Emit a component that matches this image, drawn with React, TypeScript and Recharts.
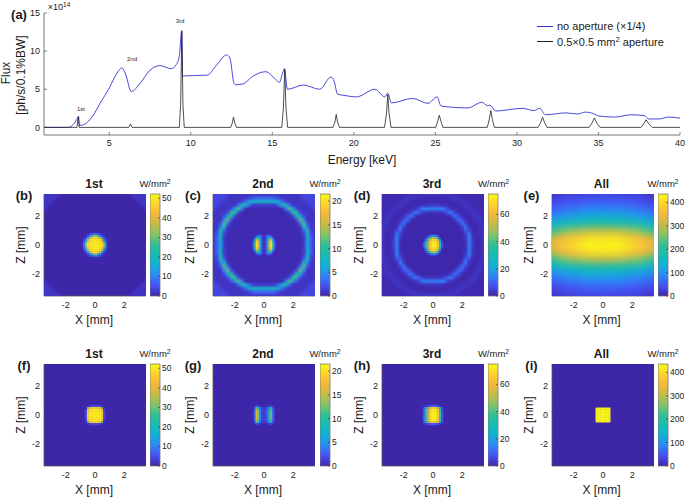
import React from "react";
import {
  BarChart,
  Bar,
  LineChart,
  Line,
  ScatterChart,
  Scatter,
  XAxis,
  YAxis,
  CartesianGrid,
  Legend,
} from "recharts";

const FONT = '"Liberation Sans", Arial, sans-serif';

// (a) flux spectra
const blueEnergy = [1, 2.4, 2.6, 2.8, 3, 3.12, 3.17, 3.43, 4.04, 4.45, 5, 5.47, 5.77, 6, 6.35, 6.9, 7.5, 8.1, 8.8, 9.1, 9.3, 9.44, 9.5, 9.6, 11, 11.6, 12.2, 12.4, 12.65, 12.75, 13.2, 13.8, 14.6, 15.2, 15.45, 15.6, 15.75, 15.92, 16.9, 17.9, 18.6, 18.8, 19, 19.4, 20.15, 21.3, 21.9, 22.08, 22.3, 23.6, 24.55, 25.1, 25.35, 27, 27.85, 28.2, 28.35, 28.7, 30.35, 31.05, 31.4, 31.75, 33, 33.7, 34.2, 34.7, 35, 36, 37, 37.8, 38.1, 38.7, 39.3, 40];
const blueFlux = [0, 0, 0.05, 0.4, 1, 1.45, 0.25, 0.35, 1.65, 3.2, 5.15, 7.1, 7.8, 7, 4.7, 5.8, 7.5, 8.1, 7.7, 8.2, 9.4, 12.6, 6.7, 6.75, 6.85, 8.2, 9.5, 9.1, 5.8, 5.6, 5.7, 6.7, 7.3, 6.3, 5.9, 6.9, 7.7, 5, 5.55, 5, 6.6, 6, 4.35, 4.2, 4, 5, 4, 4.5, 3.2, 3.8, 3.15, 4, 2.8, 2.55, 3.3, 2.85, 2.9, 2.15, 2.5, 2.2, 2.5, 1.65, 1.9, 1.75, 2, 1.8, 1.5, 1.35, 1.65, 1.55, 1.1, 1.1, 1.35, 1.2];
const blackEnergy = [1, 3.02, 3.1, 3.16, 6.2, 6.3, 6.4, 9.3, 9.38, 9.45, 9.52, 9.6, 12.45, 12.55, 12.62, 12.7, 12.8, 15.58, 15.68, 15.76, 15.84, 15.94, 18.72, 18.84, 18.92, 19, 19.12, 21.88, 22, 22.08, 22.16, 22.28, 25.02, 25.14, 25.24, 25.34, 25.46, 28.18, 28.3, 28.4, 28.5, 28.62, 31.3, 31.45, 31.57, 31.7, 31.85, 34.42, 34.6, 34.75, 34.9, 35.1, 37.6, 37.78, 37.92, 38.08, 38.3, 40];
const blackFlux = [0, 0, 1.4, 0, 0, 0.45, 0, 0, 3, 12.7, 3, 0, 0, 0.6, 1.35, 0.6, 0, 0, 2.5, 7.6, 2.5, 0, 0, 0.7, 1.7, 0.7, 0, 0, 1.8, 4.3, 1.8, 0, 0, 0.8, 1.6, 0.8, 0, 0, 1, 2.2, 1, 0, 0, 0.6, 1.35, 0.6, 0, 0, 0.55, 1.25, 0.55, 0, 0, 0.45, 1, 0.45, 0, 0];

const blueData = blueEnergy.map((e, i) => ({ e, f: blueFlux[i] }));
const blackData = blackEnergy.map((e, i) => ({ e, f: blackFlux[i] }));

const energyTicks = [5, 10, 15, 20, 25, 30, 35, 40];
const fluxTicks = [0, 5, 10, 15];
const mmTicks = [-2, 0, 2];

// power density grids, z >= 0 only (mirrored at build time)
const ring1st = [
  [0, 0, 0, 0, 0, 0, 0, 0, 0, 0, 0, 0, 0, 0, 0, 0],
  [0, 0, 0, 0, 0, 0, 0, 0, 0, 0, 0, 0, 0, 0, 0, 0],
  [0, 0, 0, 0, 0, 0, 0, 0, 0, 0, 0, 0, 0, 0, 0, 0],
  [0, 0, 0, 0, 0, 0, 0, 0, 0, 0, 0, 0, 0, 0, 0, 0],
  [0, 0, 0, 0, 0, 0, 0, 0, 0, 0, 0, 0, 0, 0, 0, 0],
  [0, 0, 0, 0, 0, 0, 0, 0, 0, 0, 0, 0, 0, 0, 0, 0],
  [0, 0, 0, 0, 0, 0, 0, 0, 0, 0, 0, 0, 0, 0, 0, 0],
  [0, 0, 0, 0, 0, 0, 0, 0, 0, 0, 0, 0, 0, 0, 0, 0],
  [0, 0, 0, 0, 0, 0, 0, 0, 0, 0, 0, 0, 0, 0, 0, 2],
  [0, 0, 0, 0, 0, 0, 0, 0, 0, 0, 0, 0, 0, 0, 0, 2],
  [0, 0, 0, 0, 0, 0, 0, 0, 0, 0, 0, 0, 0, 0, 2, 2],
  [0, 0, 0, 0, 0, 0, 0, 0, 0, 0, 0, 0, 0, 2, 2, 2],
  [0, 0, 0, 0, 0, 0, 0, 0, 0, 0, 0, 0, 2, 2, 2, 2],
  [0, 0, 0, 0, 0, 0, 0, 0, 0, 0, 0, 2, 2, 2, 2, 2],
  [0, 0, 0, 0, 0, 0, 0, 0, 0, 0, 2, 2, 2, 2, 2, 2],
  [0, 0, 0, 0, 0, 0, 0, 0, 2, 2, 2, 2, 2, 2, 2, 2],
];
const spot1st = [
  [50, 50, 50, 50, 48, 35, 10, 1],
  [50, 50, 50, 50, 47, 33, 9, 1],
  [50, 50, 50, 49, 44, 20, 6, 0],
  [50, 50, 49, 47, 35, 12, 3, 0],
  [48, 47, 44, 35, 14, 5, 1, 0],
  [35, 33, 20, 12, 5, 1, 0, 0],
  [10, 9, 6, 3, 1, 0, 0, 0],
  [1, 1, 0, 0, 0, 0, 0, 0],
];
const ring2nd = [
  [0.3, 0.3, 0.3, 0.3, 0.3, 0.3, 0.3, 0.3, 0.3, 0.3, 0.3, 1, 6, 2.5, 0.8, 0.8],
  [0.3, 0.3, 0.3, 0.3, 0.3, 0.3, 0.3, 0.3, 0.3, 0.3, 0.3, 1, 6.5, 2.5, 0.8, 0.8],
  [0.3, 0.3, 0.3, 0.3, 0.3, 0.3, 0.3, 0.3, 0.3, 0.3, 0.3, 1, 7.5, 3, 0.8, 0.8],
  [0.3, 0.3, 0.3, 0.3, 0.3, 0.3, 0.3, 0.3, 0.3, 0.3, 0.3, 1.5, 8.5, 2, 0.8, 0.8],
  [0.3, 0.3, 0.3, 0.3, 0.3, 0.3, 0.3, 0.3, 0.3, 0.3, 0.3, 3, 9, 1.5, 0.8, 0.8],
  [0.3, 0.3, 0.3, 0.3, 0.3, 0.3, 0.3, 0.3, 0.3, 0.3, 1, 9, 4, 0.8, 0.8, 0.8],
  [0.3, 0.3, 0.3, 0.3, 0.3, 0.3, 0.3, 0.3, 0.3, 0.3, 3.5, 11.5, 2, 0.8, 0.8, 0.8],
  [0.3, 0.3, 0.3, 0.3, 0.3, 0.3, 0.3, 0.3, 0.3, 2, 12, 4.5, 0.8, 0.8, 0.8, 0.8],
  [0.3, 0.3, 0.3, 0.3, 0.3, 0.3, 0.3, 0.3, 1.5, 10, 7, 1.8, 0.8, 0.8, 0.8, 1.6],
  [0.3, 0.3, 0.3, 0.3, 0.3, 0.3, 0.3, 1.8, 10, 10, 1.8, 0.8, 0.8, 0.8, 0.8, 1.6],
  [0.3, 0.3, 0.3, 0.3, 0.3, 0.3, 3.5, 11.5, 6, 1.8, 0.8, 0.8, 0.8, 0.8, 1.6, 1.6],
  [1, 1, 1, 1, 3, 8, 9, 3.5, 0.8, 0.8, 0.8, 0.8, 0.8, 1.6, 1.6, 1.6],
  [7.5, 7.5, 7.5, 7.5, 7, 3.5, 1.5, 0.8, 0.8, 0.8, 0.8, 0.8, 1.6, 1.6, 1.6, 1.6],
  [3, 3, 3, 2.5, 1.5, 0.8, 0.8, 0.8, 0.8, 0.8, 0.8, 1.6, 1.6, 1.6, 1.6, 1.6],
  [0.8, 0.8, 0.8, 0.8, 0.8, 0.8, 0.8, 0.8, 0.8, 0.8, 1.6, 1.6, 1.6, 1.6, 1.6, 1.6],
  [0.8, 0.8, 0.8, 0.8, 0.8, 0.8, 0.8, 0.8, 1.6, 1.6, 1.6, 1.6, 1.6, 1.6, 1.6, 1.6],
];
const spot2nd = [
  [0.5, 1.5, 6, 16, 20, 12, 3, 0.5],
  [0.5, 1.5, 6, 16, 20, 11.5, 3, 0.3],
  [0.5, 1.5, 6, 15, 19, 10, 2, 0.2],
  [0.5, 1.5, 5.5, 13, 15, 6, 1, 0],
  [0.5, 1.5, 5, 9, 8, 2.5, 0.3, 0],
  [0.5, 1.2, 3, 4, 2.5, 0.5, 0, 0],
  [0.2, 0.4, 0.8, 0.8, 0.3, 0, 0, 0],
  [0, 0, 0, 0, 0, 0, 0, 0],
];
const ring3rd = [
  [0.3, 0.3, 0.3, 0.3, 0.3, 0.3, 0.3, 0.3, 0.3, 1.5, 14, 3, 0.8, 1, 2.8, 2.4],
  [0.3, 0.3, 0.3, 0.3, 0.3, 0.3, 0.3, 0.3, 0.3, 1.5, 14, 3, 0.8, 1, 2.6, 2.4],
  [0.3, 0.3, 0.3, 0.3, 0.3, 0.3, 0.3, 0.3, 0.3, 2.5, 15, 2, 0.8, 1, 2.8, 2],
  [0.3, 0.3, 0.3, 0.3, 0.3, 0.3, 0.3, 0.3, 0.3, 4, 14, 1.5, 0.8, 1.2, 2.8, 1.6],
  [0.3, 0.3, 0.3, 0.3, 0.3, 0.3, 0.3, 0.3, 1.2, 10, 6, 1, 0.8, 1.6, 2.8, 1.2],
  [0.3, 0.3, 0.3, 0.3, 0.3, 0.3, 0.3, 0.3, 3.5, 14, 2, 0.8, 0.8, 2.2, 2.4, 1],
  [0.3, 0.3, 0.3, 0.3, 0.3, 0.3, 0.3, 2.5, 13, 5, 1, 0.8, 1.2, 2.8, 1.6, 0.8],
  [0.3, 0.3, 0.3, 0.3, 0.3, 0.3, 2.5, 12, 8, 1.5, 0.8, 0.8, 2.2, 2.8, 1.2, 0.8],
  [0.3, 0.3, 0.3, 0.3, 0.3, 3.5, 13, 8, 1.5, 0.8, 0.8, 1.6, 2.8, 1.6, 0.8, 0.8],
  [2, 2, 2.5, 4, 10, 14, 5, 1.5, 0.8, 0.8, 1.2, 2.8, 2.4, 0.8, 0.8, 0.8],
  [14, 14, 15, 14, 6, 2, 1, 0.8, 0.8, 1.2, 2.8, 2.4, 1.2, 0.8, 0.8, 0.8],
  [3, 3, 2, 1.5, 1, 0.8, 0.8, 0.8, 1.6, 2.8, 2.4, 1.2, 0.8, 0.8, 0.8, 0.8],
  [0.8, 0.8, 0.8, 0.8, 0.8, 0.8, 1.2, 2.2, 2.8, 2, 0.8, 0.8, 0.8, 0.8, 0.8, 0.8],
  [0.8, 0.8, 0.8, 1.2, 1.6, 2.2, 2.8, 2.8, 1.6, 0.8, 0.8, 0.8, 0.8, 0.8, 0.8, 0.8],
  [2.8, 2.8, 2.8, 2.8, 2.8, 2.4, 1.6, 1.2, 0.8, 0.8, 0.8, 0.8, 0.8, 0.8, 0.8, 0.8],
  [2.4, 2.4, 2.4, 2.4, 1.6, 0.8, 0.8, 0.8, 0.8, 0.8, 0.8, 0.8, 0.8, 0.8, 0.8, 0.8],
];
const spot3rd = [
  [0, 8, 25, 42, 58, 68, 72, 72, 70, 62, 35, 8, 0],
  [0, 7, 24, 42, 58, 68, 72, 72, 70, 61, 33, 7, 0],
  [0, 3, 18, 38, 56, 67, 71, 71, 69, 56, 25, 3, 0],
  [0, 1, 8, 28, 48, 62, 68, 68, 64, 45, 12, 1, 0],
  [0, 0, 2, 12, 28, 42, 50, 50, 44, 22, 3, 0, 0],
  [0, 0, 0, 2, 6, 12, 15, 15, 12, 4, 0, 0, 0],
];
const allOpen = [
  [440, 440, 435, 425, 410, 390, 370, 345, 320, 300],
  [410, 410, 405, 395, 380, 360, 335, 310, 285, 260],
  [300, 300, 295, 285, 275, 260, 240, 220, 195, 175],
  [195, 195, 190, 185, 178, 168, 155, 140, 125, 110],
  [130, 130, 128, 124, 118, 110, 100, 90, 80, 70],
  [85, 85, 83, 80, 76, 70, 63, 55, 48, 42],
  [55, 55, 53, 50, 47, 43, 38, 32, 27, 23],
  [35, 35, 34, 32, 30, 27, 23, 19, 16, 13],
  [22, 22, 21, 20, 18, 16, 13, 10, 8, 6],
  [14, 14, 13, 12, 11, 9, 7, 5, 4, 3],
];
const square1st = [
  [50, 50, 50, 50, 46, 4, 0],
  [50, 50, 50, 50, 46, 4, 0],
  [50, 50, 50, 50, 46, 4, 0],
  [50, 50, 50, 49, 42, 3, 0],
  [46, 46, 46, 42, 28, 1, 0],
  [4, 4, 4, 3, 1, 0, 0],
];
const square2nd = [
  [0, 3, 16, 13, 4, 1.5, 1, 1.5, 3, 9, 12, 3, 0],
  [0, 3, 16, 13, 4, 1.5, 1, 1.5, 3, 9, 12, 3, 0],
  [0, 3, 16, 13, 4, 1.5, 1, 1.5, 3, 9, 12, 3, 0],
  [0, 3, 15, 12, 4, 1.5, 1, 1.5, 3, 8, 11, 3, 0],
  [0, 2, 11, 9, 3, 1, 1, 1, 2, 6, 8, 2, 0],
  [0, 0, 2, 1.5, 0.5, 0, 0, 0, 0.5, 1, 1.5, 0, 0],
];
const square3rd = [
  [0, 8, 26, 44, 60, 70, 73, 73, 71, 64, 38, 8, 0],
  [0, 8, 26, 44, 60, 70, 73, 73, 71, 64, 38, 8, 0],
  [0, 8, 26, 44, 60, 70, 73, 73, 71, 64, 38, 8, 0],
  [0, 8, 26, 44, 60, 70, 73, 73, 71, 64, 38, 8, 0],
  [0, 5, 20, 36, 50, 60, 63, 63, 60, 52, 28, 5, 0],
  [0, 0, 2, 5, 7, 8, 9, 9, 8, 6, 2, 0, 0],
];
const squareAll = [
  [430, 430, 430, 430, 430],
  [430, 430, 430, 430, 430],
  [430, 430, 430, 430, 430],
  [430, 430, 430, 430, 430],
  [430, 430, 430, 430, 430],
];

const PARULA = ["#3e26a8", "#4750f3", "#2d87f7", "#11b1d6", "#17bcb4", "#2fc095", "#84c367", "#c4bb48", "#f3b83c", "#fdd130", "#f9fb15"];

function hexToRgb(h: string) {
  return [1, 3, 5].map((i) => parseInt(h.slice(i, i + 2), 16));
}

function parulaColor(t: number) {
  const p = Math.max(0, Math.min(1, t)) * (PARULA.length - 1);
  const i = Math.min(Math.floor(p), PARULA.length - 2);
  const a = hexToRgb(PARULA[i]);
  const b = hexToRgb(PARULA[i + 1]);
  const c = a.map((v, k) => Math.round(v + (b[k] - v) * (p - i)));
  return `rgb(${c[0]},${c[1]},${c[2]})`;
}

type Layer = { grid: number[][]; step: number; mirrorX: boolean; blur: string };

// grid -> scatter points; z is always mirrored, x only when the grid holds x >= 0
function buildCells(layer: Layer) {
  const cells: { x: number; z: number; v: number }[] = [];
  layer.grid.forEach((row, j) => {
    row.forEach((v, i) => {
      if (v === 0) return;
      const xs = layer.mirrorX
        ? i === 0 ? [0] : [i * layer.step, -i * layer.step]
        : [(i - (row.length - 1) / 2) * layer.step];
      const zs = j === 0 ? [0] : [j * layer.step, -j * layer.step];
      xs.forEach((x) => zs.forEach((z) => cells.push({ x, z, v })));
    });
  });
  return cells;
}

const PLOT = 102;
const MM_SPAN = 7;

const panels = [
  { letter: "(b)", title: "1st", L: 44, T: 194, cb: 149.5, max: 52.2, ticks: [0, 10, 20, 30, 40, 50], layers: [{ grid: ring1st, step: 0.25, mirrorX: true, blur: "b1" }, { grid: spot1st, step: 0.125, mirrorX: true, blur: "b2" }] },
  { letter: "(c)", title: "2nd", L: 213, T: 194, cb: 319.5, max: 21.5, ticks: [0, 5, 10, 15, 20], layers: [{ grid: ring2nd, step: 0.25, mirrorX: true, blur: "b1" }, { grid: spot2nd, step: 0.125, mirrorX: true, blur: "b2" }] },
  { letter: "(d)", title: "3rd", L: 382, T: 194, cb: 488, max: 75, ticks: [0, 20, 40, 60], layers: [{ grid: ring3rd, step: 0.25, mirrorX: true, blur: "b1" }, { grid: spot3rd, step: 0.125, mirrorX: false, blur: "b2" }] },
  { letter: "(e)", title: "All", L: 551.5, T: 194, cb: 657.5, max: 436, ticks: [0, 100, 200, 300, 400], layers: [{ grid: allOpen, step: 0.5, mirrorX: true, blur: "b3" }] },
  { letter: "(f)", title: "1st", L: 44, T: 364, cb: 149.5, max: 52.2, ticks: [0, 10, 20, 30, 40, 50], layers: [{ grid: square1st, step: 0.125, mirrorX: true, blur: "b2" }] },
  { letter: "(g)", title: "2nd", L: 213, T: 364, cb: 319.5, max: 21.5, ticks: [0, 5, 10, 15, 20], layers: [{ grid: square2nd, step: 0.125, mirrorX: false, blur: "b2" }] },
  { letter: "(h)", title: "3rd", L: 382, T: 364, cb: 488, max: 75, ticks: [0, 20, 40, 60], layers: [{ grid: square3rd, step: 0.125, mirrorX: false, blur: "b2" }] },
  { letter: "(i)", title: "All", L: 551.5, T: 364, cb: 657.5, max: 436, ticks: [0, 100, 200, 300, 400], layers: [{ grid: squareAll, step: 0.11, mirrorX: true, blur: "b4" }] },
];

function Txt({ x, y, size = 12, bold, rotate, children }: any) {
  return (
    <div
      style={{
        position: "absolute",
        left: x,
        top: y,
        transform: `translate(-50%, -50%)${rotate ? ` rotate(${rotate}deg)` : ""}`,
        fontFamily: FONT,
        fontSize: size,
        fontWeight: bold ? 700 : 400,
        color: "#1a1a1a",
        whiteSpace: "nowrap",
        lineHeight: 1,
      }}
    >
      {children}
    </div>
  );
}

const Sup = ({ children }: any) => (
  <span style={{ fontSize: "0.72em", verticalAlign: "0.5em" }}>{children}</span>
);

const axisStroke = { stroke: "#555", strokeWidth: 0.8 };
const blank = () => "";

function HeatPanel({ panel }: any) {
  const pxPerMm = PLOT / MM_SPAN;
  const tick = { fontSize: 9, fill: "#222", fontFamily: FONT };
  return (
    <>
      <div style={{ position: "absolute", left: panel.L - 30, top: panel.T - 2 }}>
        <ScatterChart width={30 + PLOT + 2} height={2 + PLOT + 18} margin={{ top: 2, right: 2, bottom: 0, left: 0 }}>
          <CartesianGrid fill="#3e26a8" stroke="none" horizontal={false} vertical={false} />
          {panel.layers.map((layer: Layer, i: number) => {
            const size = layer.step * pxPerMm + 0.4;
            return (
              <Scatter
                key={i}
                className={layer.blur}
                data={buildCells(layer)}
                isAnimationActive={false}
                shape={(p: any) => (
                  <rect
                    x={p.cx - size / 2}
                    y={p.cy - size / 2}
                    width={size}
                    height={size}
                    fill={parulaColor(p.payload.v / panel.max)}
                  />
                )}
              />
            );
          })}
          <XAxis type="number" dataKey="x" domain={[-3.5, 3.5]} allowDataOverflow ticks={mmTicks} height={18} tickSize={-2} tickMargin={8} tick={tick} axisLine={axisStroke} tickLine={{ stroke: "#333", strokeWidth: 0.6 }} />
          <YAxis type="number" dataKey="z" domain={[-3.5, 3.5]} allowDataOverflow ticks={mmTicks} width={30} tickSize={-2} tickMargin={6} tick={tick} axisLine={axisStroke} tickLine={{ stroke: "#333", strokeWidth: 0.6 }} />
          <XAxis xAxisId="top" orientation="top" type="number" domain={[-3.5, 3.5]} ticks={mmTicks} height={0} tickSize={-2} tickFormatter={blank} axisLine={axisStroke} tickLine={{ stroke: "#333", strokeWidth: 0.6 }} />
          <YAxis yAxisId="right" orientation="right" type="number" domain={[-3.5, 3.5]} ticks={mmTicks} width={0} tickSize={-2} tickFormatter={blank} axisLine={axisStroke} tickLine={{ stroke: "#333", strokeWidth: 0.6 }} />
        </ScatterChart>
      </div>
      <div style={{ position: "absolute", left: panel.cb, top: panel.T - 2 }}>
        <BarChart width={10 + 24} height={2 + PLOT + 6} data={[{ v: panel.max }]} margin={{ top: 2, right: 0, bottom: 6, left: 0 }} barCategoryGap={0}>
          <XAxis hide />
          <YAxis orientation="right" type="number" domain={[0, panel.max]} ticks={panel.ticks} interval={0} width={24} tickSize={-2} tickMargin={4} tick={{ fontSize: 8.5, fill: "#222", fontFamily: FONT, textAnchor: "start" }} axisLine={false} tickLine={{ stroke: "#333", strokeWidth: 0.6 }} />
          <Bar dataKey="v" fill="url(#parulaBar)" stroke="#777" strokeWidth={0.8} isAnimationActive={false} />
        </BarChart>
      </div>
      <Txt x={panel.L + 50} y={panel.T - 10} bold>{panel.title}</Txt>
      <Txt x={panel.cb + 5.5} y={panel.T - 10} size={9.5}>W/mm<Sup>2</Sup></Txt>
      <Txt x={panel.L - 20} y={panel.T + 1} size={13} bold>{panel.letter}</Txt>
      <Txt x={panel.L - 23} y={panel.T + 51} rotate={-90}>Z [mm]</Txt>
      <Txt x={panel.L + 50} y={panel.T + 126}>X [mm]</Txt>
    </>
  );
}

function FluxLegend({ payload }: any) {
  return (
    <div style={{ fontFamily: FONT, fontSize: 11, color: "#1a1a1a" }}>
      {(payload || []).map((item: any) => (
        <div key={item.value} style={{ display: "flex", alignItems: "center", height: 14.7 }}>
          <span style={{ width: 16, height: 0, borderTop: `0.8px solid ${item.color}`, marginRight: 4 }} />
          <span style={{ whiteSpace: "nowrap" }}>
            {item.value === "blue" ? "no aperture (×1/4)" : <>0.5×0.5 mm<Sup>2</Sup> aperture</>}
          </span>
        </div>
      ))}
    </div>
  );
}

export default function App() {
  const tick = { fontSize: 9, fill: "#222", fontFamily: FONT };
  const tickLine = { stroke: "#333", strokeWidth: 0.6 };
  return (
    <div style={{ position: "absolute", left: 0, top: 0, width: 685, height: 497, background: "#fff", overflow: "hidden" }}>
      <style>{`
        .b1 { filter: blur(1.1px); }
        .b2 { filter: blur(0.7px); }
        .b3 { filter: blur(3.2px); }
        .b4 { filter: blur(0.25px); }
      `}</style>
      <svg width={0} height={0} style={{ position: "absolute" }}>
        <defs>
          <linearGradient id="parulaBar" x1="0" y1="1" x2="0" y2="0">
            {PARULA.map((c, i) => (
              <stop key={i} offset={i / (PARULA.length - 1)} stopColor={c} />
            ))}
          </linearGradient>
        </defs>
      </svg>

      <div style={{ position: "absolute", left: 0, top: 0 }}>
        <LineChart width={685} height={170} margin={{ top: 13, right: 5, bottom: 0, left: 0 }}>
          <XAxis type="number" dataKey="e" domain={[1, 40]} allowDataOverflow ticks={energyTicks} height={35} tickSize={-3} tickMargin={8} tick={tick} axisLine={axisStroke} tickLine={tickLine} />
          <YAxis type="number" dataKey="f" domain={[-1, 15]} allowDataOverflow ticks={fluxTicks} width={44} tickSize={-3} tickMargin={7} tick={tick} axisLine={axisStroke} tickLine={tickLine} />
          <XAxis xAxisId="top" orientation="top" type="number" domain={[1, 40]} ticks={energyTicks} height={0} tickSize={-3} tickFormatter={blank} axisLine={axisStroke} tickLine={tickLine} />
          <YAxis yAxisId="right" orientation="right" type="number" domain={[-1, 15]} ticks={fluxTicks} width={0} tickSize={-3} tickFormatter={blank} axisLine={axisStroke} tickLine={tickLine} />
          <Line data={blueData} dataKey="f" name="blue" type="monotone" stroke="#3333d6" strokeWidth={0.9} dot={false} isAnimationActive={false} />
          <Line data={blackData} dataKey="f" name="black" type="linear" stroke="#222" strokeWidth={0.8} dot={false} isAnimationActive={false} />
          <Legend
            content={<FluxLegend />}
            layout="vertical"
            align="center"
            verticalAlign="middle"
            itemSorter={null}
            wrapperStyle={{ left: 537, top: 19, width: 140, bottom: "auto", margin: 0 }}
          />
        </LineChart>
      </div>
      <Txt x={19} y={14} size={13} bold>(a)</Txt>
      <Txt x={59} y={7} size={9}>×10<Sup>14</Sup></Txt>
      <Txt x={6} y={73} rotate={-90}>Flux</Txt>
      <Txt x={21} y={75} rotate={-90}>[ph/s/0.1%BW]</Txt>
      <Txt x={362} y={160}>Energy [keV]</Txt>
      <Txt x={81} y={109} size={6}>1st</Txt>
      <Txt x={132} y={59} size={6}>2nd</Txt>
      <Txt x={180} y={21} size={6}>3rd</Txt>

      {panels.map((p) => (
        <HeatPanel key={p.letter} panel={p} />
      ))}
    </div>
  );
}
